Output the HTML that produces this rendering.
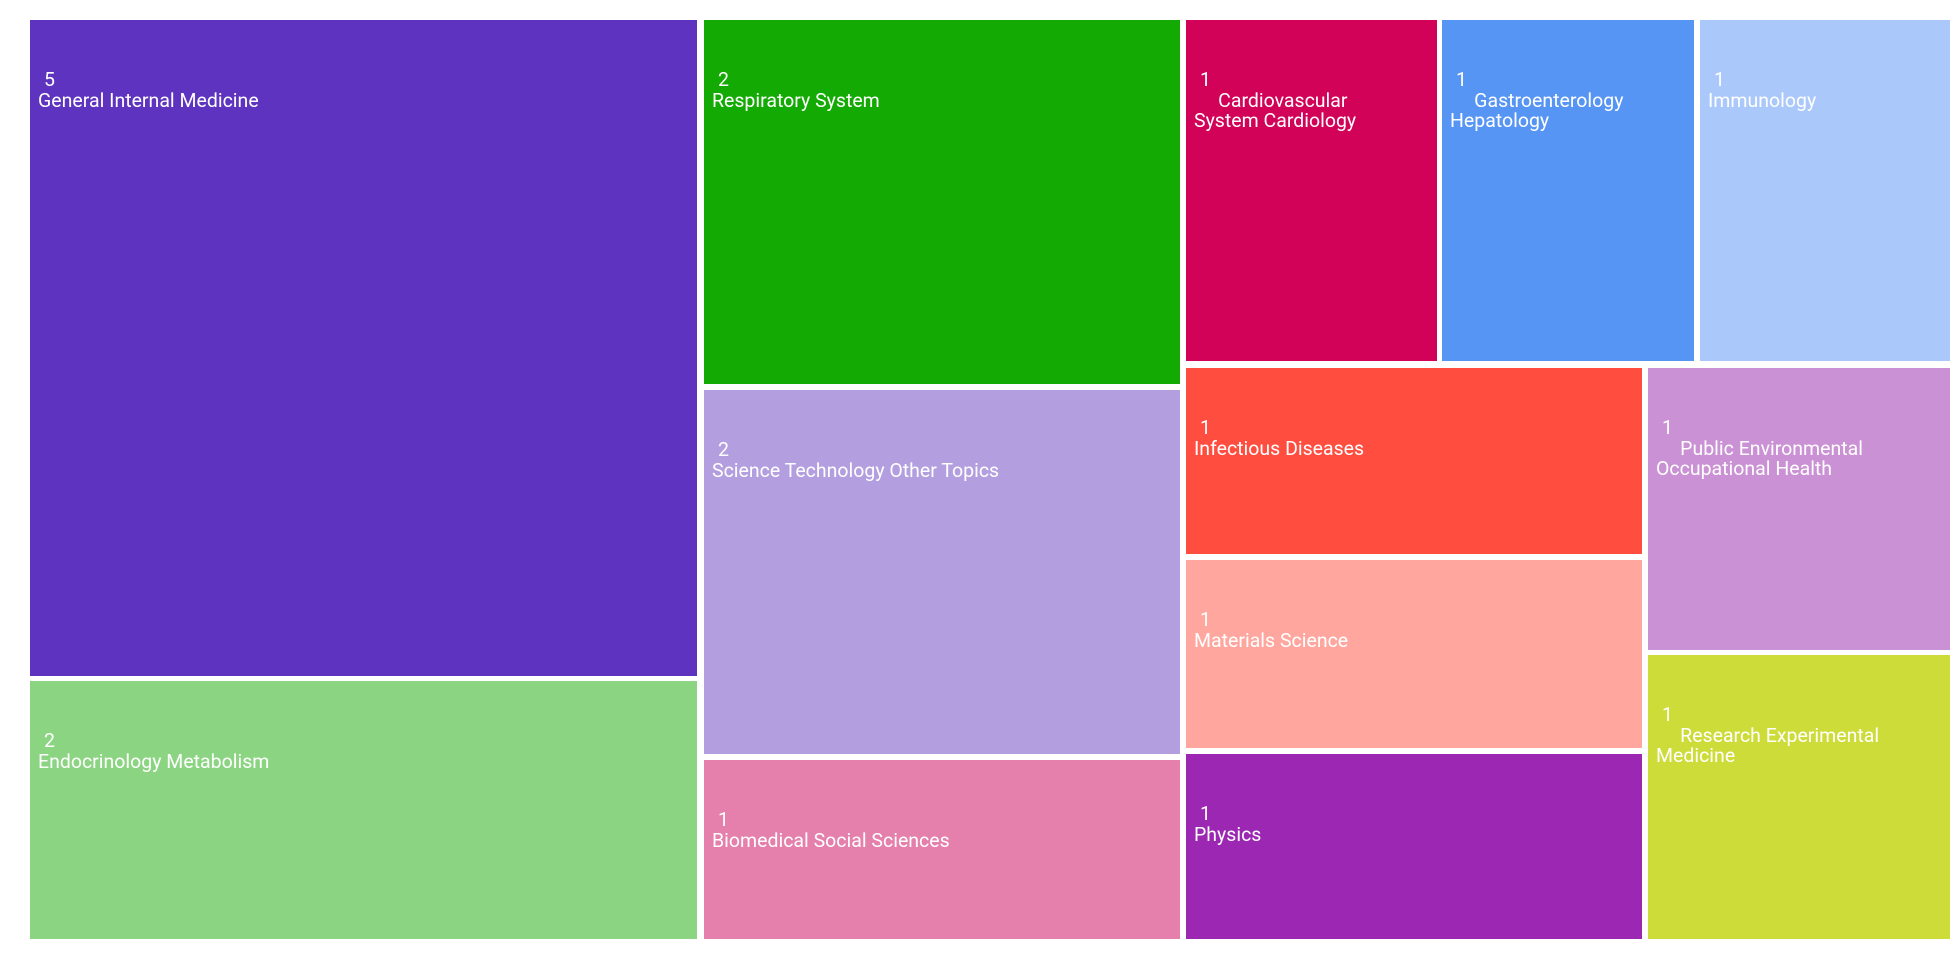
<!DOCTYPE html>
<html><head><meta charset="utf-8"><style>
body{margin:0;width:1960px;height:960px;background:#fff;position:relative;overflow:hidden;font-family:"Roboto","Liberation Sans",sans-serif;color:#fff}
.b{position:absolute}
.n{position:absolute;left:14px;top:49px;font-size:19.5px;line-height:22px}
.l{position:absolute;left:8px;top:71px;font-size:19.5px;line-height:20px;white-space:pre}
</style></head><body>
<div class="b" style="left:30px;top:20px;width:667px;height:656px;background:#5e33bf"><div class="n">5</div><div class="l">General Internal Medicine</div></div>
<div class="b" style="left:30px;top:681px;width:667px;height:258px;background:#8bd582"><div class="n">2</div><div class="l">Endocrinology Metabolism</div></div>
<div class="b" style="left:704px;top:20px;width:476px;height:364px;background:#14aa04"><div class="n">2</div><div class="l">Respiratory System</div></div>
<div class="b" style="left:704px;top:390px;width:476px;height:364px;background:#b39fe0"><div class="n">2</div><div class="l">Science Technology Other Topics</div></div>
<div class="b" style="left:704px;top:760px;width:476px;height:179px;background:#e57fac"><div class="n">1</div><div class="l">Biomedical Social Sciences</div></div>
<div class="b" style="left:1186px;top:20px;width:251px;height:341px;background:#d10258"><div class="n">1</div><div class="l">     Cardiovascular
System Cardiology</div></div>
<div class="b" style="left:1442px;top:20px;width:252px;height:341px;background:#5795f5"><div class="n">1</div><div class="l">     Gastroenterology
Hepatology</div></div>
<div class="b" style="left:1700px;top:20px;width:250px;height:341px;background:#aac8fa"><div class="n">1</div><div class="l">Immunology</div></div>
<div class="b" style="left:1186px;top:368px;width:456px;height:186px;background:#ff4d40"><div class="n">1</div><div class="l">Infectious Diseases</div></div>
<div class="b" style="left:1186px;top:560px;width:456px;height:188px;background:#ffa79f"><div class="n">1</div><div class="l">Materials Science</div></div>
<div class="b" style="left:1186px;top:754px;width:456px;height:185px;background:#9c27b2"><div class="n">1</div><div class="l">Physics</div></div>
<div class="b" style="left:1648px;top:368px;width:302px;height:282px;background:#cb91d5"><div class="n">1</div><div class="l">     Public Environmental
Occupational Health</div></div>
<div class="b" style="left:1648px;top:655px;width:302px;height:284px;background:#cddc39"><div class="n">1</div><div class="l">     Research Experimental
Medicine</div></div>
</body></html>
